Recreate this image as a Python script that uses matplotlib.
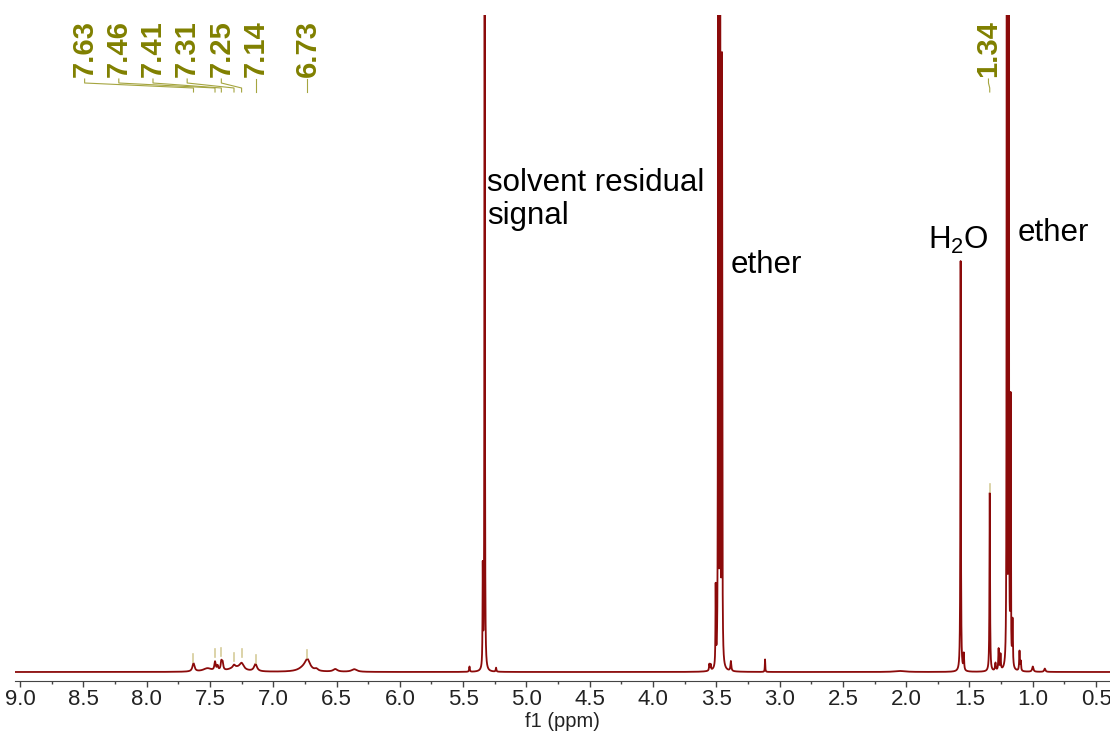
import numpy as np
import matplotlib
matplotlib.use("Agg")
import matplotlib.pyplot as plt
from matplotlib.ticker import MultipleLocator

plt.rcParams['font.family'] = ['Liberation Sans', 'DejaVu Sans']
plt.rcParams['mathtext.fontset'] = 'custom'
plt.rcParams['mathtext.rm'] = 'Liberation Sans'
plt.rcParams['mathtext.it'] = 'Liberation Sans:italic'

# peak table: shift (ppm), height (fraction of axis), half width (ppm)
peak_ppm = [7.63, 7.52, 7.46, 7.44, 7.41, 7.40, 7.31, 7.30, 7.25, 7.14,
            6.76, 6.73, 6.66, 6.51, 6.36,
            5.45, 5.345, 5.33, 5.24,
            3.555, 3.545, 3.505, 3.485, 3.470, 3.455, 3.385, 3.115, 2.05,
            1.57, 1.545, 1.34, 1.295, 1.27, 1.255,
            1.205, 1.19, 1.175, 1.16, 1.105, 1.095, 1.00, 0.905]
peak_height = [0.0125, 0.005, 0.013, 0.007, 0.013, 0.011, 0.004, 0.006, 0.010, 0.011,
               0.005, 0.016, 0.003, 0.004, 0.004,
               0.008, 0.15, 3.0, 0.006,
               0.010, 0.009, 0.12, 3.0, 3.0, 0.92, 0.015, 0.019, 0.0015,
               0.625, 0.025, 0.272, 0.012, 0.033, 0.024,
               2.5, 2.5, 0.40, 0.07, 0.030, 0.014, 0.008, 0.005]
peak_width = [0.010, 0.040, 0.006, 0.006, 0.006, 0.006, 0.010, 0.060, 0.020, 0.014,
              0.050, 0.025, 0.015, 0.020, 0.025,
              0.003, 0.002, 0.0012, 0.003,
              0.003, 0.003, 0.002, 0.0012, 0.0012, 0.002, 0.004, 0.002, 0.050,
              0.0022, 0.003, 0.0025, 0.004, 0.003, 0.003,
              0.0013, 0.0013, 0.0018, 0.003, 0.003, 0.003, 0.006, 0.006]

# integrated/labelled peaks
label_ppm = [7.63, 7.46, 7.41, 7.31, 7.25, 7.14, 6.73, 1.34]
label_top = [0.0137, 0.021, 0.023, 0.015, 0.021, 0.012, 0.019, 0.272]
label_text = ['7.63', '7.46', '7.41', '7.31', '7.25', '7.14', '6.73', '1.34']
# where the rotated labels sit (ppm)
label_pos = [8.49, 8.22, 7.95, 7.68, 7.41, 7.14, 6.73, 1.35]

tick_labels = ['9.0', '8.5', '8.0', '7.5', '7.0', '6.5', '6.0', '5.5', '5.0',
               '4.5', '4.0', '3.5', '3.0', '2.5', '2.0', '1.5', '1.0', '0.5']


def ypx(y):
    # pixel row of the reference -> data units (baseline at row 672)
    return (672 - y) / 657.0


ppm = np.linspace(9.04, 0.39, 80000)
inten = np.zeros_like(ppm)
for p, h, w in zip(peak_ppm, peak_height, peak_width):
    inten += h / (1 + ((ppm - p) / w) ** 2)

fig = plt.figure(figsize=(11.1, 7.38), dpi=100)
ax = fig.add_axes([15 / 1110, 1 - 681 / 738, 1095 / 1110, 666 / 738])
ax.plot(ppm, inten, color='#8b0a0a', lw=1.3)
ax.set_xlim(9.04, 0.39)
ax.set_ylim(ypx(681), ypx(15))

for s in ['left', 'right', 'top']:
    ax.spines[s].set_visible(False)
ax.spines['bottom'].set_color('#444444')
ax.set_yticks([])
ax.xaxis.set_minor_locator(MultipleLocator(0.25))
ax.set_xticks(np.arange(9.0, 0.49, -0.5))
ax.set_xticklabels(tick_labels)
ax.tick_params(axis='x', which='major', length=4, width=1, color='#444444',
               labelsize=16, labelcolor='#222222', pad=2)
ax.tick_params(axis='x', which='minor', length=2.5, width=1, color='#444444')
ax.set_xlabel('f1 (ppm)', fontsize=14.5, color='#222222', labelpad=1)

# peak labels with MestReNova style connectors
olive = '#808000'
for lx, px, top, txt in zip(label_pos, label_ppm, label_top, label_text):
    ax.text(lx, ypx(77), txt, rotation=90, ha='center', va='bottom',
            fontsize=21, fontweight='bold', color=olive, clip_on=False)
    ax.plot([lx, lx, px, px], [ypx(79), ypx(83), ypx(88), ypx(92)],
            color='#a5a540', lw=0.8, clip_on=False)
    ax.plot([px, px], [top + 0.002, top + 0.014], color='#d6cc9a', lw=1.2)

# annotations
ax.text(5.31, ypx(191), 'solvent residual', fontsize=22.5, color='black',
        va='baseline', ha='left')
ax.text(5.31, ypx(224), 'signal', fontsize=22.5, color='black',
        va='baseline', ha='left')
ax.text(3.39, ypx(273), 'ether', fontsize=22.5, color='black',
        va='baseline', ha='left')
ax.text(1.83, ypx(249), r'H$_\mathregular{2}$O', fontsize=22.5, color='black',
        va='baseline', ha='left')
ax.text(1.117, ypx(241), 'ether', fontsize=22.5, color='black',
        va='baseline', ha='left')

fig.savefig('out.png', dpi=100)
